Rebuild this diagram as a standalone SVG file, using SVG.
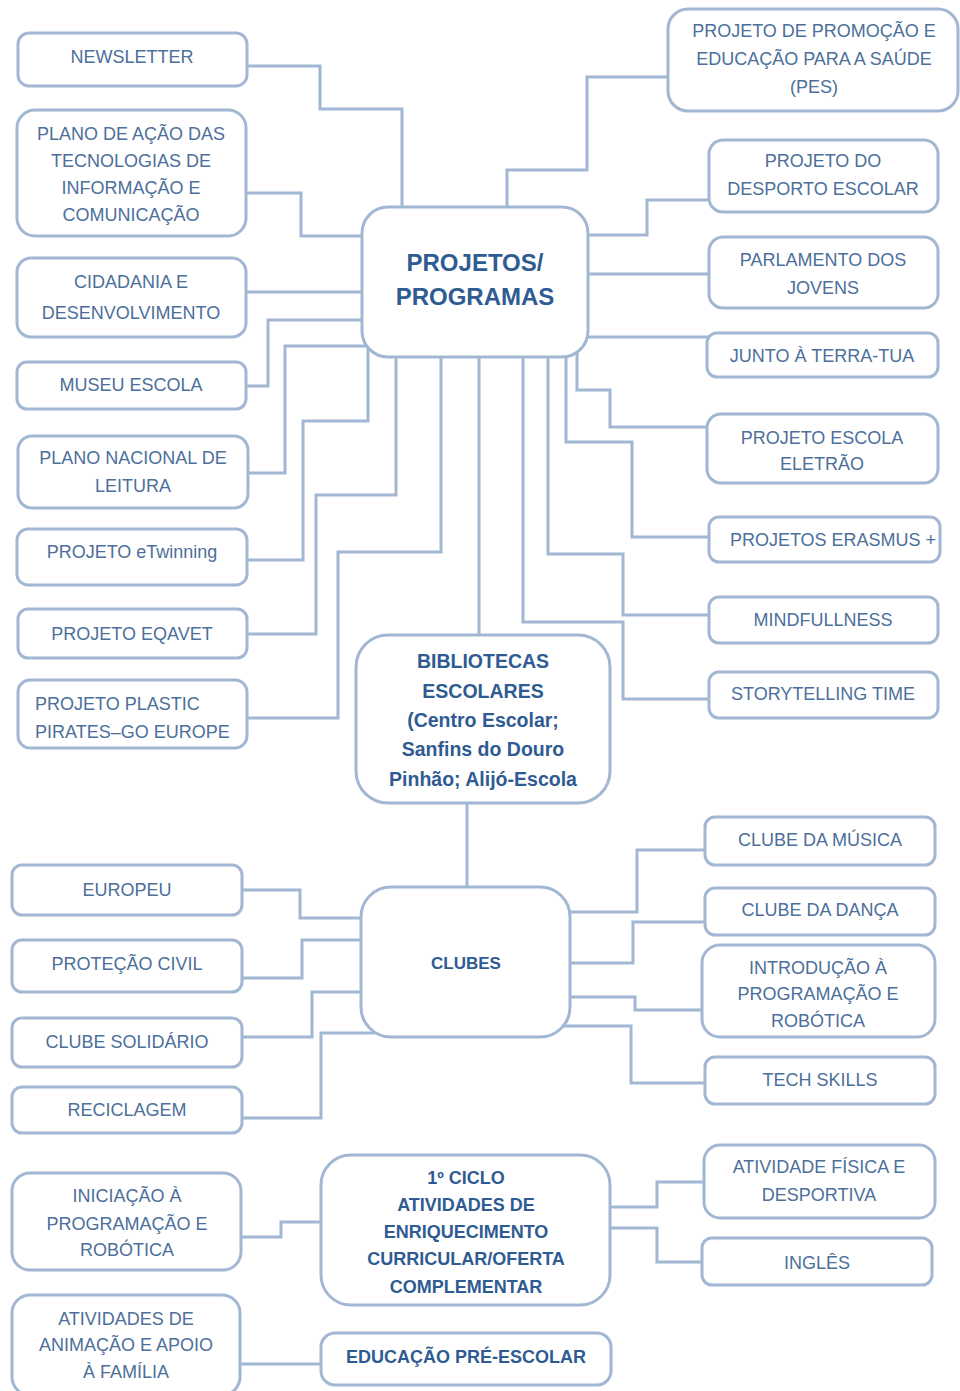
<svg xmlns="http://www.w3.org/2000/svg" width="960" height="1391" viewBox="0 0 960 1391">
<style>
.box{fill:#fff;stroke:#a2b7d3;stroke-width:3}
.ln{fill:none;stroke:#a2b7d3;stroke-width:3;stroke-linejoin:miter}
.t{font-family:"Liberation Sans",Arial,sans-serif;font-size:18px;fill:#4c6f9b;text-anchor:middle}
.b{font-family:"Liberation Sans",Arial,sans-serif;font-weight:bold;fill:#2f5b93;text-anchor:middle}
</style>
<rect width="960" height="1391" fill="#fff"/>
<g id="connectors">
<path class="ln" d="M247 66H320V109H402V215"/>
<path class="ln" d="M246 193H301V236H370"/>
<path class="ln" d="M246 292H370"/>
<path class="ln" d="M246 386H268V320H370"/>
<path class="ln" d="M248 473H285V346H370"/>
<path class="ln" d="M246 560H303V421H368V345"/>
<path class="ln" d="M246 634H316V495H396V350"/>
<path class="ln" d="M246 718H338V552H441V350"/>
<path class="ln" d="M479 350V640"/>
<path class="ln" d="M523 350V622H623V699H709"/>
<path class="ln" d="M548 350V554H623V615H709"/>
<path class="ln" d="M566 350V442H632V537H709"/>
<path class="ln" d="M577 345V390H610V427H709"/>
<path class="ln" d="M507 215V170H587V77H670"/>
<path class="ln" d="M580 235H647V200H711"/>
<path class="ln" d="M580 274H711"/>
<path class="ln" d="M578 337H709"/>
<path class="ln" d="M467 795V892"/>
<path class="ln" d="M242 890H300V918H368"/>
<path class="ln" d="M242 978H302V940H368"/>
<path class="ln" d="M242 1037H312V992H368"/>
<path class="ln" d="M242 1118H321V1033H375"/>
<path class="ln" d="M562 912H637V850H707"/>
<path class="ln" d="M562 963H633V922H707"/>
<path class="ln" d="M562 997H635V1010H704"/>
<path class="ln" d="M558 1026H631V1083H707"/>
<path class="ln" d="M241 1237H281V1222H328"/>
<path class="ln" d="M240 1364H328"/>
<path class="ln" d="M604 1207H657V1182H706"/>
<path class="ln" d="M604 1228H657V1262H704"/>
</g>
<g id="n-projetos"><rect class="box" x="362" y="207" width="226" height="150" rx="26"/><text class="b" font-size="24" x="475" y="271">PROJETOS/</text><text class="b" font-size="24" x="475" y="305">PROGRAMAS</text></g>
<g id="n-newsletter"><rect class="box" x="18" y="33" width="229" height="53" rx="11"/><text class="t" x="132" y="63">NEWSLETTER</text></g>
<g id="n-plano-acao"><rect class="box" x="17" y="110" width="229" height="126" rx="18"/><text class="t" x="131" y="140">PLANO DE AÇÃO DAS</text><text class="t" x="131" y="167">TECNOLOGIAS DE</text><text class="t" x="131" y="194">INFORMAÇÃO E</text><text class="t" x="131" y="221">COMUNICAÇÃO</text></g>
<g id="n-cidadania"><rect class="box" x="17" y="258" width="229" height="79" rx="14"/><text class="t" x="131" y="288">CIDADANIA E</text><text class="t" x="131" y="319">DESENVOLVIMENTO</text></g>
<g id="n-museu"><rect class="box" x="17" y="362" width="229" height="47" rx="10"/><text class="t" x="131" y="391">MUSEU ESCOLA</text></g>
<g id="n-pnl"><rect class="box" x="18" y="436" width="230" height="72" rx="14"/><text class="t" x="133" y="464">PLANO NACIONAL DE</text><text class="t" x="133" y="492">LEITURA</text></g>
<g id="n-etwinning"><rect class="box" x="17" y="529" width="230" height="56" rx="11"/><text class="t" x="132" y="558">PROJETO eTwinning</text></g>
<g id="n-eqavet"><rect class="box" x="18" y="609" width="229" height="49" rx="10"/><text class="t" x="132" y="640">PROJETO EQAVET</text></g>
<g id="n-plastic"><rect class="box" x="18" y="680" width="229" height="68" rx="12"/><text class="t" style="text-anchor:start" x="35" y="710">PROJETO PLASTIC</text><text class="t" style="text-anchor:start" x="35" y="738">PIRATES–GO EUROPE</text></g>
<g id="n-pes"><rect class="box" x="668" y="9" width="290" height="102" rx="20"/><text class="t" x="814" y="37">PROJETO DE PROMOÇÃO E</text><text class="t" x="814" y="65">EDUCAÇÃO PARA A SAÚDE</text><text class="t" x="814" y="93">(PES)</text></g>
<g id="n-desporto"><rect class="box" x="709" y="140" width="229" height="72" rx="14"/><text class="t" x="823" y="167">PROJETO DO</text><text class="t" x="823" y="195">DESPORTO ESCOLAR</text></g>
<g id="n-parlamento"><rect class="box" x="709" y="237" width="229" height="71" rx="14"/><text class="t" x="823" y="266">PARLAMENTO DOS</text><text class="t" x="823" y="294">JOVENS</text></g>
<g id="n-junto"><rect class="box" x="707" y="333" width="231" height="44" rx="10"/><text class="t" x="822" y="362">JUNTO À TERRA-TUA</text></g>
<g id="n-eletrao"><rect class="box" x="707" y="414" width="231" height="69" rx="14"/><text class="t" x="822" y="444">PROJETO ESCOLA</text><text class="t" x="822" y="470">ELETRÃO</text></g>
<g id="n-erasmus"><rect class="box" x="709" y="517" width="231" height="45" rx="10"/><text class="t" x="833" y="546">PROJETOS ERASMUS +</text></g>
<g id="n-mindfullness"><rect class="box" x="709" y="597" width="229" height="46" rx="10"/><text class="t" x="823" y="626">MINDFULLNESS</text></g>
<g id="n-storytelling"><rect class="box" x="709" y="672" width="229" height="46" rx="10"/><text class="t" x="823" y="700">STORYTELLING TIME</text></g>
<g id="n-bibliotecas"><rect class="box" x="356" y="635" width="254" height="168" rx="32"/><text class="b" font-size="19.5" x="483" y="668">BIBLIOTECAS</text><text class="b" font-size="19.5" x="483" y="698">ESCOLARES</text><text class="b" font-size="19.5" x="483" y="727">(Centro Escolar;</text><text class="b" font-size="19.5" x="483" y="756">Sanfins do Douro</text><text class="b" font-size="19.5" x="483" y="786">Pinhão; Alijó-Escola</text></g>
<g id="n-clubes"><rect class="box" x="361" y="887" width="209" height="150" rx="30"/><text class="b" font-size="17" x="466" y="969">CLUBES</text></g>
<g id="n-europeu"><rect class="box" x="12" y="865" width="230" height="50" rx="10"/><text class="t" x="127" y="896">EUROPEU</text></g>
<g id="n-protecao"><rect class="box" x="12" y="940" width="230" height="52" rx="10"/><text class="t" x="127" y="970">PROTEÇÃO CIVIL</text></g>
<g id="n-solidario"><rect class="box" x="12" y="1018" width="230" height="49" rx="10"/><text class="t" x="127" y="1048">CLUBE SOLIDÁRIO</text></g>
<g id="n-reciclagem"><rect class="box" x="12" y="1087" width="230" height="46" rx="10"/><text class="t" x="127" y="1116">RECICLAGEM</text></g>
<g id="n-musica"><rect class="box" x="705" y="817" width="230" height="48" rx="10"/><text class="t" x="820" y="846">CLUBE DA MÚSICA</text></g>
<g id="n-danca"><rect class="box" x="705" y="888" width="230" height="47" rx="10"/><text class="t" x="820" y="916">CLUBE DA DANÇA</text></g>
<g id="n-introducao"><rect class="box" x="702" y="945" width="233" height="92" rx="18"/><text class="t" x="818" y="974">INTRODUÇÃO À</text><text class="t" x="818" y="1000">PROGRAMAÇÃO E</text><text class="t" x="818" y="1027">ROBÓTICA</text></g>
<g id="n-tech"><rect class="box" x="705" y="1057" width="230" height="47" rx="10"/><text class="t" x="820" y="1086">TECH SKILLS</text></g>
<g id="n-ciclo"><rect class="box" x="321" y="1155" width="289" height="150" rx="30"/><text class="b" font-size="18" x="466" y="1184">1º CICLO</text><text class="b" font-size="18" x="466" y="1211">ATIVIDADES DE</text><text class="b" font-size="18" x="466" y="1238">ENRIQUECIMENTO</text><text class="b" font-size="18" x="466" y="1265">CURRICULAR/OFERTA</text><text class="b" font-size="18" x="466" y="1293">COMPLEMENTAR</text></g>
<g id="n-iniciacao"><rect class="box" x="12" y="1173" width="229" height="97" rx="18"/><text class="t" x="127" y="1202">INICIAÇÃO À</text><text class="t" x="127" y="1230">PROGRAMAÇÃO E</text><text class="t" x="127" y="1256">ROBÓTICA</text></g>
<g id="n-animacao"><rect class="box" x="12" y="1295" width="228" height="100" rx="18"/><text class="t" x="126" y="1325">ATIVIDADES DE</text><text class="t" x="126" y="1351">ANIMAÇÃO E APOIO</text><text class="t" x="126" y="1378">À FAMÍLIA</text></g>
<g id="n-preescolar"><rect class="box" x="321" y="1333" width="290" height="52" rx="14"/><text class="b" font-size="18" x="466" y="1363">EDUCAÇÃO PRÉ-ESCOLAR</text></g>
<g id="n-fisica"><rect class="box" x="704" y="1145" width="231" height="73" rx="16"/><text class="t" x="819" y="1173">ATIVIDADE FÍSICA E</text><text class="t" x="819" y="1201">DESPORTIVA</text></g>
<g id="n-ingles"><rect class="box" x="702" y="1238" width="230" height="47" rx="10"/><text class="t" x="817" y="1269">INGLÊS</text></g>
</svg>
